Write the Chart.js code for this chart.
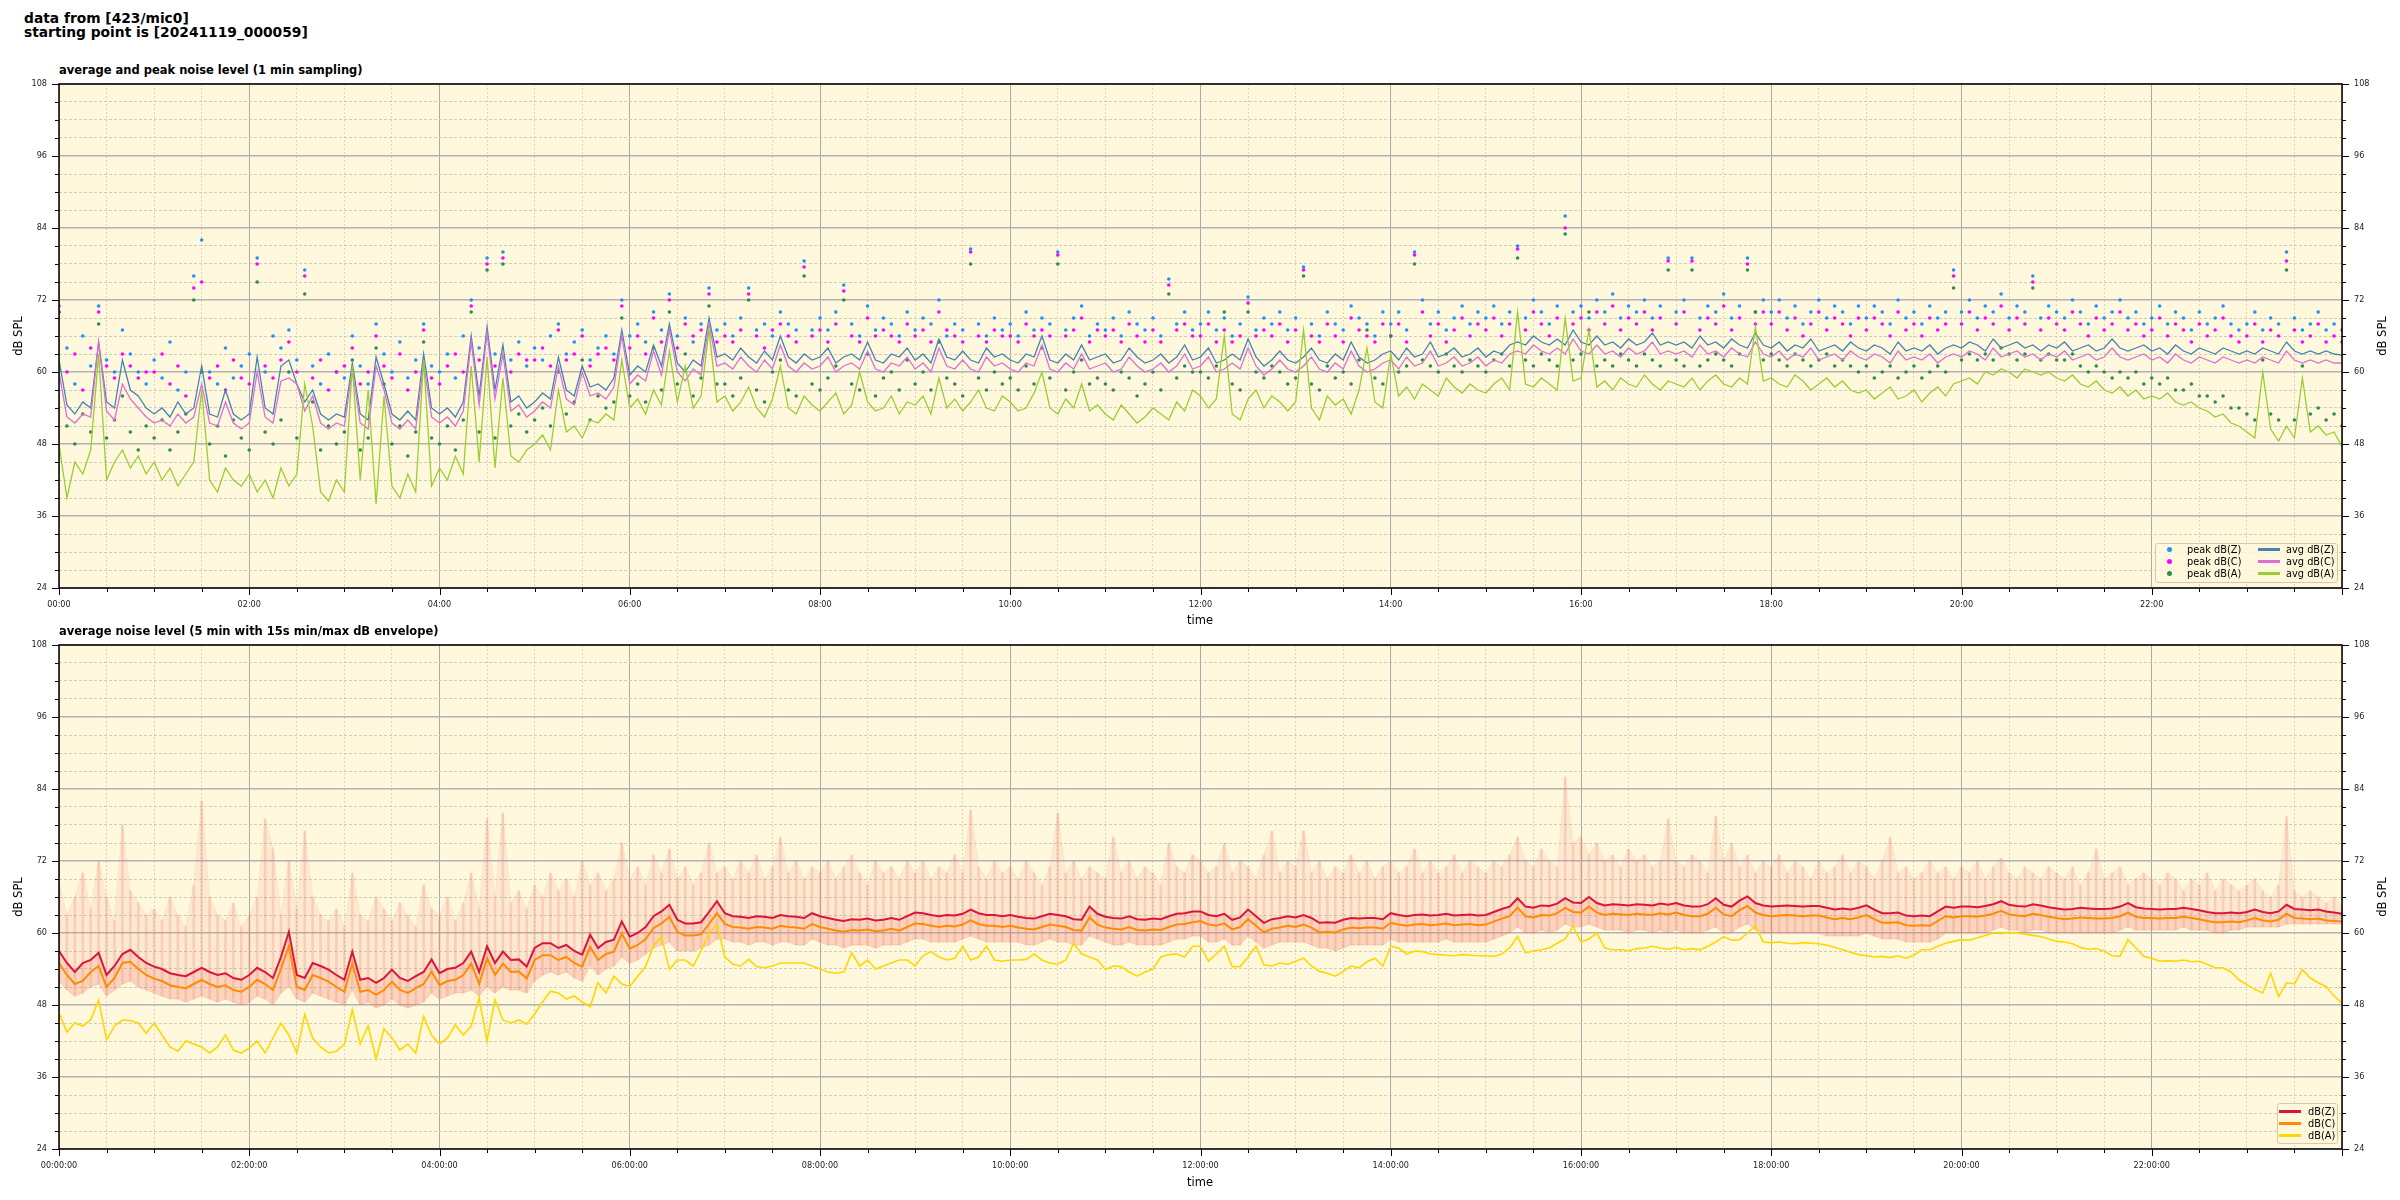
<!DOCTYPE html>
<html>
<head>
<meta charset="utf-8">
<title>noise level 423/mic0</title>
<script src="https://cdn.jsdelivr.net/npm/chart.js@4.4.1/dist/chart.umd.min.js"></script>
<style>
  body { margin: 0; background: #fff; }
  #fig { position: relative; width: 2400px; height: 1200px; font-family: "DejaVu Sans", sans-serif; color: #000; overflow: hidden; }
  .abs { position: absolute; white-space: nowrap; }
  .suptitle { left: 24px; top: 11px; font-size: 13.8px; font-weight: bold; line-height: 14px; }
  .ptitle { left: 59px; font-size: 11.5px; font-weight: bold; line-height: 12px; }
  .xlabel { width: 200px; left: 1100px; text-align: center; font-size: 11.5px; line-height: 12px; }
  .ylabel { width: 100px; text-align: center; font-size: 11.5px; line-height: 12px; transform: rotate(-90deg); }
  canvas { position: absolute; left: 0; }
  .legend { background: rgba(255, 248, 220, 0.8); border: 1px solid #dcc9a3; border-radius: 3px; box-sizing: border-box; font-size: 9.8px; line-height: 12px; z-index: 2; }
  .legend span { position: absolute; }
  .dot { width: 5px; height: 5px; border-radius: 50%; }
  .seg { width: 22px; height: 3px; }
</style>
</head>
<body>
<div id="fig">
  <div class="abs suptitle">data from [423/mic0]<br>starting point is [20241119_000059]</div>

  <div class="abs ptitle" style="top:64px">average and peak noise level (1 min sampling)</div>
  <canvas id="topChart" width="2400" height="580" style="top:60px"></canvas>
  <div class="abs xlabel" style="top:614px">time</div>
  <div class="abs ylabel" style="left:-32px;top:330px">dB SPL</div>
  <div class="abs ylabel" style="left:2332px;top:330px">dB SPL</div>

  <div class="abs ptitle" style="top:625px">average noise level (5 min with 15s min/max dB envelope)</div>
  <canvas id="bottomChart" width="2400" height="580" style="top:620px"></canvas>
  <div class="abs xlabel" style="top:1176px">time</div>
  <div class="abs ylabel" style="left:-32px;top:891px">dB SPL</div>
  <div class="abs ylabel" style="left:2332px;top:891px">dB SPL</div>

  <div class="abs legend" style="left:2155px;top:543px;width:183px;height:40px">
    <span class="dot" style="left:11px;top:3px;background:#1e90ff"></span><span style="left:31px;top:0px">peak dB(Z)</span>
    <span class="dot" style="left:11px;top:15px;background:#ff00ff"></span><span style="left:31px;top:12px">peak dB(C)</span>
    <span class="dot" style="left:11px;top:27px;background:#2e8b57"></span><span style="left:31px;top:24px">peak dB(A)</span>
    <span class="seg" style="left:102px;top:4px;background:#4682b4"></span><span style="left:130px;top:0px">avg dB(Z)</span>
    <span class="seg" style="left:102px;top:16px;background:#da70d6"></span><span style="left:130px;top:12px">avg dB(C)</span>
    <span class="seg" style="left:102px;top:28px;background:#9acd32"></span><span style="left:130px;top:24px">avg dB(A)</span>
  </div>

  <div class="abs legend" style="left:2277px;top:1103px;width:61px;height:41px">
    <span class="seg" style="left:1px;top:6px;background:#dc143c"></span><span style="left:30px;top:2px">dB(Z)</span>
    <span class="seg" style="left:1px;top:18px;background:#ff8c00"></span><span style="left:30px;top:14px">dB(C)</span>
    <span class="seg" style="left:1px;top:30px;background:#ffd700"></span><span style="left:30px;top:26px">dB(A)</span>
  </div>
</div>

<script>
// one value every 5 minutes, 00:00 .. 24:00
const STEP_MIN = 5;
const times = Array.from({ length: 289 }, (_, i) => i * STEP_MIN);

const yTickLabels = [24, 36, 48, 60, 72, 84, 96, 108];
const xTickLabelsTop = ['00:00', '02:00', '04:00', '06:00', '08:00', '10:00', '12:00', '14:00', '16:00', '18:00', '20:00', '22:00'];
const xTickLabelsBottom = ['00:00:00', '02:00:00', '04:00:00', '06:00:00', '08:00:00', '10:00:00', '12:00:00', '14:00:00', '16:00:00', '18:00:00', '20:00:00', '22:00:00'];

// ---- top panel: 1 min averages and peaks (read every 5 min)
const avgZ = [
  62, 54.5, 53, 55, 54, 65, 55, 54, 62, 57, 56, 54,
  53, 54, 52.5, 55, 53, 54, 61, 53, 52.5, 57, 53, 52,
  53, 62.5, 54, 53, 61, 62, 58, 55, 57, 53, 52, 53,
  52.5, 61.5, 53, 52, 62.5, 58, 53, 52, 53.5, 52, 63, 54,
  53, 54, 52.5, 55, 66, 56, 67.5, 57, 64.5, 55, 56, 54,
  55, 56.5, 55.5, 62.5, 57, 56, 61, 57.5, 58, 57, 59, 67,
  59.5, 61, 60, 64.5, 61, 68, 61.5, 60, 62, 61, 69, 62.5,
  63, 62, 64, 62.5, 61.5, 63.5, 62, 66, 62.5, 61.5, 63, 62,
  62.5, 64, 61.5, 62.5, 63, 62, 65, 62, 61.5, 63, 62.5, 64,
  62, 63, 61.5, 65.5, 62.5, 62, 63.5, 62, 61.5, 64, 62.5, 63,
  62, 61.5, 63, 62.5, 66, 62, 61.5, 63, 62, 64.5, 62, 62.5,
  63, 61.5, 62, 64, 62.5, 61.5, 62, 63, 61.5, 62.5, 64.5, 62,
  62.5, 64, 61.5, 62, 63, 62, 65.5, 62.5, 61, 62, 63.5, 62,
  61.5, 62.5, 64, 62, 61.5, 63, 62, 65, 62.5, 61.5, 62, 63,
  63.5, 62, 64, 62.5, 63, 65, 62.5, 63, 64, 62.5, 63, 64,
  62.5, 63.5, 63, 64.5, 65, 64.5, 66, 65, 64.5, 65.5, 64.5, 67,
  65, 64.5, 66, 64.5, 65, 64, 65.5, 64.5, 65, 66.5, 64.5, 65,
  64.5, 65, 64, 66, 64.5, 65, 64, 65.5, 64.5, 64, 66.5, 64.5,
  64, 65, 63.5, 64.5, 64, 65.5, 63.5, 64, 64.5, 63.5, 65, 64,
  63.5, 64.5, 64, 63, 65, 63.5, 64, 63.5, 64.5, 63, 64, 64.5,
  64, 65, 64.5, 63.5, 65.5, 64, 64.5, 65, 64, 64.5, 63.5, 64.5,
  64, 65, 63.5, 64, 64.5, 63.5, 64, 65.5, 64, 63.5, 64, 64.5,
  63.5, 64, 63, 64.5, 63.5, 63, 64, 63.5, 63, 64, 63.5, 63,
  63.5, 63, 64, 63.5, 63, 65, 63.5, 63, 63.5, 63, 63.5, 63,
  62.8
];
const avgC = [
  60, 52.5, 51.5, 53, 52.5, 65, 53.5, 52, 58, 55.5, 54, 52.5,
  51.5, 52, 51, 53, 51.5, 52.5, 58, 51.5, 51, 55, 51.5, 50.5,
  51.5, 60, 52.5, 51.5, 58.5, 59, 58, 53.5, 56, 51.5, 50.5, 51.5,
  51, 60.5, 51.5, 50.5, 61, 57, 51.5, 50.5, 52, 50.5, 61.5, 52.5,
  51.5, 52.5, 51, 53.5, 65, 54.5, 66.5, 55.5, 63, 53.5, 54.5, 52.5,
  53.5, 55, 54, 61, 55.5, 54.5, 60, 56, 56.5, 55.5, 57.5, 66,
  58, 59.5, 58.5, 63.5, 59.5, 67, 60, 58.5, 60.5, 59.5, 68, 61,
  61.5, 60.5, 62.5, 61, 60, 62, 60.5, 64.5, 61, 60, 61.5, 60.5,
  61, 62.5, 60, 61, 61.5, 60.5, 63.5, 60.5, 60, 61.5, 61, 62.5,
  60.5, 61.5, 60, 64, 61, 60.5, 62, 60.5, 60, 62.5, 61, 61.5,
  60.5, 60, 61.5, 61, 64.5, 60.5, 60, 61.5, 60.5, 63, 60.5, 61,
  61.5, 60, 60.5, 62.5, 61, 60, 60.5, 61.5, 60, 61, 63, 60.5,
  61, 62.5, 60, 60.5, 61.5, 60.5, 64, 61, 59.5, 60.5, 62, 60.5,
  60, 61, 62.5, 60.5, 60, 61.5, 60.5, 63.5, 61, 60, 60.5, 61.5,
  62, 60.5, 62.5, 61, 61.5, 63.5, 61, 61.5, 62.5, 61, 61.5, 62.5,
  61, 62, 61.5, 63, 63.5, 63, 64.5, 63.5, 63, 64, 63, 65.5,
  63.5, 63, 64.5, 63, 63.5, 62.5, 64, 63, 63.5, 65, 63, 63.5,
  63, 63.5, 62.5, 64.5, 63, 63.5, 62.5, 64, 63, 62.5, 65, 63,
  62.5, 63.5, 62, 63, 62.5, 64, 62, 62.5, 63, 62, 63.5, 62.5,
  62, 63, 62.5, 61.5, 63.5, 62, 62.5, 62, 63, 61.5, 62.5, 63,
  62.5, 63.5, 63, 62, 64, 62.5, 63, 63.5, 62.5, 63, 62, 63,
  62.5, 63.5, 62, 62.5, 63, 62, 62.5, 64, 62.5, 62, 62.5, 63,
  62, 62.5, 61.5, 63, 62, 61.5, 62.5, 62, 61.5, 62.5, 62, 61.5,
  62, 61.5, 62.5, 62, 61.5, 63.5, 62, 61.5, 62, 61.5, 62, 61.5,
  61.5
];
const avgA = [
  48, 39, 45, 43, 47, 63, 42, 45, 47, 44, 46, 43,
  45, 42, 44, 41, 43, 45, 57, 42, 40, 44, 42, 41,
  43, 40, 42, 39, 44, 41, 43, 58, 51, 40, 38.5, 42,
  40, 61, 42, 57, 38, 56, 41, 39, 43, 40, 62, 41,
  44, 42, 46, 43, 61, 45, 62.5, 44, 59, 46, 45, 47,
  48, 49.5, 47, 57, 50, 51, 49, 52, 51.5, 53, 52, 62,
  54, 55.5, 53, 57, 54.5, 63.5, 55, 61, 54, 56, 67, 55,
  56, 53.5, 55, 57.5, 54, 52.5, 55.5, 61, 54, 53, 56, 54.5,
  53.5, 55, 56.5, 53, 54.5, 60, 55, 53.5, 54, 56, 53, 55,
  54.5, 56, 53, 59, 54, 55.5, 53.5, 55, 57, 54, 53.5, 56,
  55, 53.5, 54, 56.5, 60, 54, 53, 55.5, 54, 58, 53.5, 54.5,
  53, 52, 54.5, 53, 51.5, 52.5, 54, 53, 52, 55, 53.5, 57,
  56, 54, 55.5, 66, 53, 52, 55.5, 57, 54, 56, 55, 53.5,
  55, 67, 54, 52, 56, 54.5, 55.5, 53, 57, 64, 55, 54,
  63, 56, 57.5, 55.5, 58, 57, 56, 59, 57.5, 56.5, 58, 57,
  56.5, 58, 59, 57, 70, 58, 57.5, 59, 58, 57, 69, 58.5,
  59, 67, 57.5, 58.5, 57, 59, 58, 57.5, 59.5, 58, 57, 58.5,
  58, 57.5, 59, 57, 58.5, 59.5, 58, 57.5, 59, 58, 67.5, 58.5,
  59, 58, 57.5, 59.5, 58.5, 57, 58, 59, 57.5, 58.5, 57, 56.5,
  57, 55.5, 56.5, 57.5, 55.5, 56, 57, 55, 56.5, 57.5, 56, 58,
  58.5, 59, 58, 60, 59.5, 60.5, 60, 59, 60.5, 60, 59.5, 60,
  59, 58.5, 59.5, 58, 57.5, 58.5, 57, 56.5, 57.5, 56, 57, 55.5,
  56, 55.5, 56.5, 55, 54.5, 55, 54, 53.5, 52.5, 53, 51.5, 51,
  50, 49, 60, 50.5, 48.5, 51, 49, 59, 50, 51, 49.5, 50,
  47.5
];
const peakZ = [
  70, 64, 58, 66, 61, 71, 62, 60, 67, 63, 60, 58,
  62, 59, 65, 57, 60, 76, 82, 60, 58, 64, 59, 61,
  63, 79, 60, 66, 64, 67, 62, 77, 61, 58, 63, 60,
  59, 66, 61, 58, 68, 63, 60, 65, 59, 62, 68, 61,
  60, 63, 59, 66, 72, 64, 79, 63, 80, 62, 65, 61,
  64, 62, 66, 68, 63, 65, 67, 62, 64, 66, 63, 72,
  66, 68, 65, 70, 67, 73, 66, 69, 65, 68, 74, 67,
  68, 66, 69, 74, 67, 68, 66, 70, 68, 67, 78.5, 67,
  69, 67, 70, 74.5, 68, 66, 71, 67, 69, 68, 66, 70,
  67, 69, 68, 72, 66, 68, 67, 80.5, 68, 66, 69, 67,
  68, 66, 70, 67, 69, 68, 80, 67, 69, 71, 66, 68,
  67, 69, 66, 70, 68, 67, 69, 66, 75.5, 68, 70, 67,
  68, 70, 67, 69, 66, 68, 72.5, 67, 69, 68, 70, 67,
  69, 77.5, 68, 66, 70, 68, 67, 71, 69, 68, 66, 70,
  68, 70, 67, 80, 72, 68, 70, 67, 69, 71, 68, 70,
  69, 71, 68, 70, 81, 69, 72, 70, 68, 71, 86, 70,
  71, 69, 72, 70, 73, 69, 71, 70, 72, 69, 71, 79,
  70, 72, 79, 69, 71, 70, 73, 69, 71, 79, 70, 72,
  70, 72, 69, 71, 68, 70, 72, 69, 71, 70, 68, 71,
  69, 71, 70, 68, 72, 69, 70, 68, 71, 69, 70, 77,
  70, 72, 69, 71, 70, 73, 69, 71, 70, 76, 69, 71,
  70, 69, 72, 70, 68, 71, 69, 70, 72, 69, 70, 68,
  69, 71, 68, 70, 69, 67, 70, 68, 69, 71, 68, 67,
  68, 70, 67, 69, 68, 80, 69, 67, 68, 70, 67, 68,
  67
];
const peakC = [
  71, 60, 63, 57, 64, 70, 61, 59, 63, 61, 59, 60,
  60, 63, 58, 61, 56, 74, 75, 59, 61, 57, 62, 59,
  58, 78, 61, 59, 62, 65, 60, 76, 59, 62, 57, 60,
  61, 64, 58, 60, 66, 61, 59, 63, 57, 60, 67, 59,
  58, 61, 63, 60, 71, 62, 78, 61, 79, 60, 63, 62,
  62, 64, 61, 67, 62, 63, 66, 61, 63, 64, 62, 71,
  64, 66, 63, 69, 65, 72, 64, 68, 66, 67, 73, 65,
  66, 65, 67, 73, 66, 64, 67, 68, 66, 65, 77.5, 66,
  67, 65, 68, 73.5, 66, 65, 69, 66, 67, 66, 65, 68,
  66, 67, 65, 70, 67, 66, 65, 80, 66, 65, 67, 66,
  66, 65, 68, 66, 67, 66, 79.5, 66, 67, 69, 65, 67,
  66, 67, 65, 68, 66, 65, 67, 65, 74.5, 67, 68, 66,
  66, 68, 65, 67, 65, 66, 71.5, 66, 67, 66, 68, 65,
  67, 77, 66, 65, 68, 66, 65, 69, 67, 66, 65, 68,
  66, 68, 65, 79.5, 70, 66, 68, 65, 67, 69, 66, 68,
  67, 69, 66, 68, 80.5, 67, 70, 68, 66, 69, 84, 68,
  69, 67, 70, 68, 71, 67, 69, 68, 70, 67, 69, 78.5,
  68, 70, 78.5, 67, 69, 68, 71, 67, 69, 78, 68, 70,
  68, 70, 67, 69, 66, 68, 70, 67, 69, 68, 66, 69,
  67, 69, 68, 66, 70, 67, 68, 66, 69, 67, 68, 76,
  68, 70, 67, 69, 68, 71, 67, 69, 68, 75, 67, 69,
  68, 67, 70, 68, 66, 69, 67, 68, 70, 67, 68, 66,
  67, 69, 66, 68, 67, 65, 68, 66, 67, 69, 66, 65,
  66, 68, 65, 67, 66, 78.5, 67, 65, 66, 68, 65, 66,
  65
];
const peakA = [
  70, 51, 48, 53, 50, 68, 49, 52, 56, 50, 47, 51,
  49, 52, 47, 50, 53, 72, 60, 48, 51, 46, 52, 49,
  47, 75, 50, 48, 52, 60, 49, 73, 55, 47, 51, 48,
  50, 62, 47, 49, 64, 58, 48, 51, 46, 50, 65, 49,
  48, 51, 47, 52, 70, 50, 77, 49, 78, 51, 53, 50,
  52, 54, 51, 60, 53, 55, 62, 52, 56, 54, 55, 69,
  56, 58, 55, 64, 57, 70, 58, 63, 56, 59, 71, 58,
  58, 56, 59, 72, 57, 55, 60, 62, 57, 56, 76, 58,
  57, 59, 61, 72, 58, 57, 63, 56, 59, 60, 57, 62,
  58, 60, 57, 65, 59, 58, 56, 78, 59, 57, 60, 58,
  59, 57, 61, 58, 64, 59, 78, 57, 60, 62, 58, 59,
  58, 57, 60, 59, 56, 58, 60, 57, 73, 59, 61, 60,
  60, 59, 61, 70, 58, 57, 70, 60, 59, 61, 60, 58,
  59, 76, 58, 57, 61, 59, 60, 58, 62, 67, 59, 58,
  66, 60, 61, 78, 62, 61, 60, 63, 61, 60, 62, 61,
  60, 62, 63, 61, 79, 62, 61, 63, 62, 61, 83, 62,
  63, 70, 61, 62, 61, 63, 62, 61, 63, 62, 61, 77,
  62, 61, 77, 61, 62, 63, 62, 61, 63, 77, 70, 62,
  63, 62, 61, 63, 62, 61, 62, 63, 61, 62, 61, 60,
  61, 59, 60, 61, 59, 60, 61, 59, 60, 61, 60, 74,
  62, 63, 62, 63, 62, 64, 63, 62, 63, 74, 62, 63,
  62, 62, 63, 61, 60, 61, 60, 59, 60, 59, 60, 58,
  59, 58, 59, 57, 57, 58, 56, 56, 55, 56, 54, 54,
  53, 52, 62, 53, 52, 77, 52, 61, 53, 54, 52, 53,
  51
];

// ---- bottom panel: 5 min averages and 15s min/max envelope
const levelZ = [
  57, 55, 53.5, 55, 55.5, 56.7, 53, 54.5, 56.5, 57.2, 56, 55,
  54.4, 54, 53.3, 53, 52.8, 53.5, 54.2, 53.5, 53, 53.3, 52.5, 52.2,
  53, 54.2, 53.5, 52.5, 56, 60.2, 53, 52.5, 55, 54.5, 53.9, 53,
  52.2, 56.9, 52.2, 52.5, 51.7, 52.5, 53.9, 52.5, 52, 52.8, 53.5, 55.6,
  53.3, 54, 54.2, 55, 56.9, 53.5, 57.8, 55, 56.9, 55.5, 55.6, 54.4,
  57.5, 58.3, 58.3, 57.5, 58, 57, 56.4, 59.7, 57.5, 58.5, 58.9, 61.9,
  59.4, 60, 61, 62.8, 63.6, 64.7, 62.2, 61.6, 61.6, 61.8, 63.5, 65.3,
  63.3, 62.8, 62.7, 62.5, 62.8, 62.7, 62.5, 63, 62.8, 62.7, 62.5, 63.3,
  62.8, 62.5, 62.2, 62, 62.3, 62.2, 62.4, 62.1, 62.2, 62.5, 62.2, 62.8,
  63.4, 63.3, 63, 62.8, 63, 62.9, 63.2, 63.9, 63.3, 63, 63, 62.8,
  63, 62.7, 62.5, 62.4, 62.8, 63.2, 63, 62.8, 62.3, 62.2, 64.4, 63.2,
  62.7, 62.5, 62.4, 62.8, 62.3, 62.2, 62.4, 62.3, 62.8, 63.2, 63.3, 63.6,
  63.6, 63, 62.8, 63.2, 62.2, 62.6, 63.9, 62.8, 61.7, 62.3, 62.5, 62.8,
  62.6, 63, 62.5, 61.7, 61.8, 61.7, 62.2, 62.5, 62.4, 62.5, 62.5, 62.3,
  63.3, 63, 62.8, 63, 63.1, 62.9, 63, 63.2, 62.9, 63, 63.1, 62.9,
  63, 63.5, 64, 64.4, 65.8, 64.4, 64.2, 64.6, 64.5, 64.9, 65.8, 65.1,
  65, 66, 65, 64.6, 64.8, 64.7, 64.6, 64.8, 64.7, 64.6, 64.9, 64.7,
  65, 64.6, 64.4, 64.4, 64.8, 65.8, 64.7, 64.4, 65.4, 66.1, 65, 64.6,
  64.4, 64.5, 64.6, 64.5, 64.4, 64.5, 64.5, 64.2, 63.9, 64.1, 63.9, 64.2,
  64.6, 63.9, 63.3, 63.3, 63.4, 62.9, 62.8, 62.9, 62.8, 63.6, 64.4, 64.2,
  64.4, 64.4, 64.3, 64.5, 64.8, 65.3, 64.7, 64.5, 64.4, 64.8, 64.6, 64.3,
  64.1, 63.9, 64, 64.2, 64.1, 64, 64, 64.1, 64.4, 65, 64.3, 64.1,
  64, 63.9, 64, 64, 64.2, 64, 63.8, 63.5, 63.3, 63.3, 63.4, 63.3,
  63.5, 63.9, 63.5, 63.3, 63.6, 64.7, 64, 63.9, 63.8, 63.9, 63.6, 63.4,
  63.2
];
const levelC = [
  55, 53, 51.5, 52, 53.5, 54.5, 51, 52.5, 55, 55.2, 54, 53,
  52.4, 52, 51.3, 51, 50.8, 51.5, 52.2, 51.5, 51, 51.3, 50.5, 50.2,
  51, 52.2, 51.5, 50.5, 54, 57.8, 51, 50.5, 53, 52.5, 51.9, 51,
  50.2, 54.9, 50.2, 50.5, 49.7, 50.5, 51.9, 50.5, 50, 50.8, 51.5, 53.6,
  51.3, 52, 52.2, 53, 54.9, 51.5, 55.8, 53, 54.9, 53.5, 53.6, 52.4,
  55.5, 56.3, 56.3, 55.5, 56, 55, 54.4, 57.7, 55.5, 56.5, 56.9, 59.9,
  57.4, 58, 59, 60.8, 61.6, 62.7, 60.2, 59.6, 59.6, 59.8, 61.5, 63.3,
  61.5, 61, 60.9, 60.7, 61, 60.9, 60.7, 61.2, 61, 60.9, 60.7, 61.5,
  61, 60.7, 60.4, 60.2, 60.5, 60.4, 60.6, 60.3, 60.4, 60.7, 60.4, 61,
  61.6, 61.5, 61.2, 61, 61.2, 61.1, 61.4, 62.1, 61.5, 61.2, 61.2, 61,
  61.2, 60.9, 60.7, 60.6, 61, 61.4, 61.2, 61, 60.5, 60.4, 62.6, 61.4,
  60.9, 60.7, 60.6, 61, 60.5, 60.4, 60.6, 60.5, 61, 61.4, 61.5, 61.8,
  62, 61.4, 61.2, 61.6, 60.6, 61, 62.3, 61.2, 60.1, 60.7, 60.9, 61.2,
  61, 61.4, 60.9, 60.1, 60.2, 60.1, 60.6, 60.9, 60.8, 60.9, 60.9, 60.7,
  61.7, 61.4, 61.2, 61.4, 61.5, 61.3, 61.4, 61.6, 61.3, 61.4, 61.5, 61.3,
  61.4, 61.9, 62.4, 62.8, 64.2, 62.8, 62.6, 63, 62.9, 63.3, 64.2, 63.5,
  63.4, 64.4, 63.4, 63, 63.2, 63.1, 63, 63.2, 63.1, 63, 63.3, 63.1,
  63.4, 63, 62.8, 62.8, 63.2, 64.2, 63.1, 62.8, 63.8, 64.5, 63.4, 63,
  62.8, 62.9, 63, 62.9, 62.8, 62.9, 62.9, 62.6, 62.3, 62.5, 62.3, 62.6,
  63, 62.3, 61.7, 61.7, 61.8, 61.3, 61.2, 61.3, 61.2, 62, 62.8, 62.6,
  62.8, 62.8, 62.7, 62.9, 63.2, 63.7, 63.1, 62.9, 62.8, 63.2, 63, 62.7,
  62.5, 62.3, 62.4, 62.6, 62.5, 62.4, 62.4, 62.5, 62.8, 63.4, 62.7, 62.5,
  62.5, 62.4, 62.5, 62.5, 62.7, 62.5, 62.3, 62, 61.8, 61.8, 61.9, 61.8,
  62.1, 62.5, 62.1, 61.9, 62.2, 63.2, 62.5, 62.4, 62.3, 62.4, 62.1, 62,
  61.9
];
const levelA = [
  46.7, 43.5, 45, 44.5, 45.5, 48.8, 42.2, 44.5, 45.5, 45.4, 45, 43.3,
  45, 43, 41, 40.3, 42, 41.5, 41, 40, 41, 43, 40.5, 40,
  40.8, 42, 40, 42.5, 45, 43, 40, 46.4, 42.5, 41, 40, 40.3,
  41.5, 47.2, 41.5, 44.5, 39, 44, 42.5, 40.5, 41.5, 40, 46.1, 43,
  41.5, 42.5, 44.7, 43, 44.5, 49.2, 42, 48.9, 45.5, 45, 45.5, 44.8,
  46.5, 48.5, 50.3, 50, 49, 49.5, 48.5, 47.7, 51.7, 50, 52.8, 51.5,
  51.1, 52.8, 54.4, 57.8, 59.4, 53.9, 55.5, 55.5, 54.5, 57, 60, 61.4,
  56, 54.8, 54.5, 55.6, 54.4, 54.2, 54.5, 55, 55, 55, 55, 54.5,
  54, 53.5, 53.3, 53.5, 56.7, 54.5, 55.5, 54, 54.5, 55, 55.5, 55.5,
  54.5, 56.2, 56.9, 56, 55.5, 55.8, 57.8, 55.5, 56, 57.8, 55.5, 55.3,
  55.5, 55.5, 55.6, 56.5, 55.5, 55, 54.8, 55.5, 58.3, 56.5, 56, 55.5,
  53.9, 54.5, 54.4, 53.5, 52.8, 53.5, 54, 56, 56.4, 56.5, 56, 57.8,
  57.8, 55.3, 56.5, 57.8, 54.4, 54.4, 56, 57.8, 54.7, 54.5, 55, 54.8,
  55.3, 55.8, 54.5, 53.6, 53.3, 52.8, 53.6, 54.5, 54.2, 55.2, 55.8, 54.5,
  57.8, 57.5, 56.5, 57, 56.9, 56.5, 56.4, 56.3, 56.2, 56.4, 56.3, 56.2,
  56.2, 56.1, 56.5, 57.5, 59.4, 56.7, 57, 57.2, 57.5, 58.3, 59, 61.1,
  58.5, 59, 60, 57.5, 57.2, 57.2, 57, 57.4, 57.5, 57.8, 57.5, 57.3,
  57.6, 57.2, 57.4, 57.2, 57.8, 58.5, 59.4, 58.8, 58.9, 60, 61.2, 58.5,
  58.4, 58.5, 58.3, 58.2, 58.4, 58.3, 58.2, 58, 57.6, 57.2, 56.8, 56.4,
  56.2, 56, 56.1, 55.9, 56.2, 55.8, 56.3, 57.2, 57.2, 57.8, 58.3, 58.6,
  58.9, 58.8, 59.2, 59.6, 60, 59.9, 60.1, 60, 59.8, 59.6, 59.4, 59,
  58.6, 58.5, 58.2, 57.6, 57.3, 57.4, 57, 56.2, 56.1, 58.9, 57.5, 56.1,
  55.8, 55.3, 55.4, 55.3, 55.5, 55.2, 55.3, 54.8, 54.2, 54.2, 53.5, 52.2,
  51.4, 50.6, 50, 53.3, 49.4, 51.7, 51.5, 53.9, 52.5, 51.7, 51.1, 49.5,
  48.3
];
const envMax = [
  68, 63, 66, 70, 64, 72, 66, 62, 78, 67, 65, 63,
  64, 62, 66, 63, 61, 68, 82, 66, 63, 62, 65, 61,
  63, 66, 79, 74, 63, 72, 64, 77, 66, 63, 62, 64,
  61, 70, 63, 62, 66, 64, 62, 65, 63, 61, 68, 64,
  63, 66, 62, 65, 70, 64, 79, 66, 80, 65, 67, 64,
  68, 66, 70, 67, 69, 66, 72, 68, 70, 67, 69, 75,
  69, 71, 68, 73, 70, 74, 69, 71, 68, 70, 75, 70,
  71, 69, 72, 70, 73, 69, 71, 76, 70, 72, 69, 71,
  70, 72, 69, 71, 73, 70, 68, 72, 70, 71, 69, 72,
  70, 72, 69, 71, 70, 73, 70, 80.5, 71, 69, 72, 70,
  71, 69, 72, 70, 68, 71, 80, 70, 72, 69, 71, 70,
  69, 76, 70, 72, 69, 71, 70, 68, 75, 71, 70, 73,
  72, 70, 71, 75, 70, 72, 71, 69, 73, 77, 70, 72,
  71, 77, 70, 72, 69, 71, 70, 73, 70, 72, 69, 71,
  72, 70, 71, 74, 70, 72, 70, 71, 73, 70, 72, 71,
  70, 72, 71, 73, 76, 72, 71, 74, 72, 71, 86, 75,
  76, 73, 75, 72, 73, 71, 74, 72, 73, 71, 72, 79,
  72, 71, 73, 72, 70, 79.5, 72, 75, 71, 73, 70, 72,
  71, 73, 70, 72, 71, 69, 72, 70, 71, 73, 70, 72,
  71, 69, 72, 76, 70, 71, 69, 70, 72, 70, 71, 69,
  71, 70, 72, 69, 71, 72.5, 70, 69, 71, 70, 69, 71,
  70, 69, 71, 68, 70, 74, 69, 70, 71, 68, 69, 70,
  69, 68, 70, 69, 67, 69, 68, 70, 67, 69, 68, 67,
  68, 69, 67, 66, 68, 79.5, 67, 66, 67, 66, 65, 66,
  64.5
];
const envMin = [
  52, 50.5, 49.5, 50, 51, 51.5, 49.5, 50.5, 51.5, 52, 51, 50.5,
  50, 49.5, 49, 49, 48.5, 49, 49.5, 49, 48.5, 49, 48.5, 48,
  48.5, 49.5, 49, 48, 50, 51, 49, 48.5, 50, 49.5, 49, 48.5,
  48, 50.5, 48, 48.5, 47.5, 48, 49, 48, 47.5, 48, 48.5, 50,
  49, 49.5, 50, 50, 50.5, 49.5, 51, 50, 51, 50.5, 50.5, 50,
  52, 53, 53.5, 53, 53.5, 52.5, 52, 54.5, 53, 54, 54.5, 56,
  55, 55.5, 56.5, 57.5, 58, 58.5, 57, 57, 57, 57.5, 58, 59,
  59, 58.5, 58.5, 58, 58.5, 58.5, 58, 58.5, 58.5, 58, 58, 59,
  58.5, 58, 58, 57.5, 58, 58, 58, 57.5, 58, 58, 58, 58.5,
  59, 59, 58.5, 58.5, 58.5, 58.5, 59, 59.5, 59, 58.5, 58.5, 58.5,
  58.5, 58.5, 58, 58, 58.5, 59, 58.5, 58.5, 58, 58, 59.5, 59,
  58.5, 58, 58, 58.5, 58, 58, 58, 58, 58.5, 59, 59, 59.5,
  59.5, 58.5, 58.5, 59, 58, 58, 59.5, 58.5, 57.5, 58, 58.5, 58.5,
  58.5, 58.5, 58, 57.5, 57.5, 57, 57.5, 58, 58, 58, 58, 58,
  59, 58.5, 58.5, 58.5, 58.5, 58.5, 58.5, 59, 58.5, 58.5, 58.5, 58.5,
  58.5, 59, 59.5, 60, 61, 60, 60, 60.5, 60, 60.5, 61.5, 61,
  61, 61.5, 61, 60.5, 60.5, 60.5, 60, 60.5, 60.5, 60, 60.5, 60,
  60.5, 60, 60, 60, 60.5, 61, 60, 60, 61, 61.5, 60.5, 60,
  60, 60, 60, 60, 60, 60, 60, 59.5, 59.5, 59.5, 59.5, 59.5,
  60, 59.5, 59, 59, 59, 58.5, 58.5, 58.5, 58.5, 59, 60, 60,
  60, 60, 60, 60, 60.5, 61, 60.5, 60.5, 60, 60.5, 60.5, 60,
  60, 60, 60, 60, 60, 60, 60, 60, 60.5, 61, 60.5, 60.5,
  60.5, 60.5, 60.5, 60.5, 61, 60.5, 60.5, 60.5, 60, 60, 60.5, 60.5,
  61, 61, 61, 61, 61, 61.5, 61.5, 61.5, 61.5, 61.5, 61.5, 61.5,
  61.5
];

const xy = (vals) => vals.map((v, i) => ({ x: times[i], y: v }));

const isMajorY = (v) => v % 12 === 0;
const isMajorX = (v) => v % 120 === 0;

// cornsilk background, black frame and short/long tick marks
const plotFrame = {
  id: 'plotFrame',
  beforeDraw(chart) {
    const { ctx, chartArea: a } = chart;
    ctx.save();
    ctx.fillStyle = '#fff8dc';
    ctx.fillRect(a.left, a.top, a.right - a.left, a.bottom - a.top);
    ctx.restore();
  },
  afterDraw(chart) {
    const { ctx, chartArea: a, scales } = chart;
    ctx.save();
    ctx.strokeStyle = '#000';
    ctx.lineWidth = 1;
    ctx.beginPath();
    scales.x.ticks.forEach(t => {
      const px = Math.round(scales.x.getPixelForValue(t.value)) + 0.5;
      const len = isMajorX(t.value) ? 7 : 4;
      ctx.moveTo(px, a.bottom);
      ctx.lineTo(px, a.bottom + len);
    });
    scales.y.ticks.forEach(t => {
      const py = Math.round(scales.y.getPixelForValue(t.value)) + 0.5;
      const len = isMajorY(t.value) ? 7 : 4;
      ctx.moveTo(a.left - len, py);
      ctx.lineTo(a.left, py);
      ctx.moveTo(a.right, py);
      ctx.lineTo(a.right + len, py);
    });
    ctx.stroke();
    ctx.lineWidth = 1.5;
    ctx.strokeRect(a.left, a.top, a.right - a.left, a.bottom - a.top);
    ctx.restore();
  }
};

const tickFont = { family: '"DejaVu Sans Condensed", "DejaVu Sans", sans-serif', size: 9 };

function makeOptions(padTop, xHeight, xLabels) {
  const yAxis = (position) => ({
    type: 'linear',
    position: position,
    min: 24,
    max: 108,
    afterFit: (s) => { s.width = position === 'left' ? 59 : 58; },
    ticks: {
      stepSize: 3,
      autoSkip: false,
      padding: 5,
      color: '#222',
      font: tickFont,
      callback: (v) => yTickLabels.includes(v) ? String(v) : ''
    },
    grid: {
      drawOnChartArea: position === 'left',
      tickLength: 7,
      tickColor: 'rgba(0,0,0,0)',
      color: (c) => c.tick && isMajorY(c.tick.value) ? '#b2b2b2' : '#c2c0b8',
      lineWidth: (c) => c.tick && isMajorY(c.tick.value) ? 1.6 : 0.8
    },
    border: {
      display: false,
      dash: (c) => c.tick && isMajorY(c.tick.value) ? [] : [3, 2]
    }
  });
  return {
    responsive: false,
    animation: false,
    events: [],
    layout: { padding: { top: padTop, left: 0, right: 0, bottom: 0 } },
    plugins: { legend: { display: false }, tooltip: { enabled: false } },
    scales: {
      x: {
        type: 'linear',
        min: 0,
        max: 1440,
        offset: false,
        afterFit: (s) => { s.height = xHeight; },
        ticks: {
          stepSize: 30,
          autoSkip: false,
          maxTicksLimit: 100,
          maxRotation: 0,
          minRotation: 0,
          padding: 4,
          color: '#222',
          font: tickFont,
          callback: (v) => isMajorX(v) && v < 1440 ? xLabels[v / 120] : ''
        },
        grid: {
          offset: false,
          tickLength: 7,
          tickColor: 'rgba(0,0,0,0)',
          color: (c) => c.tick && isMajorX(c.tick.value) ? '#aaaaaa' : '#d2cbb8',
          lineWidth: (c) => c.tick && isMajorX(c.tick.value) ? 1 : 0.8
        },
        border: {
          display: false,
          dash: (c) => c.tick && isMajorX(c.tick.value) ? [] : [2, 2]
        }
      },
      y: yAxis('left'),
      y2: yAxis('right')
    }
  };
}

const lineSet = (label, vals, color, width, order) => ({
  label, data: xy(vals), borderColor: color, backgroundColor: color,
  borderWidth: width, pointRadius: 0, tension: 0, fill: false, order
});
const peakSet = (label, vals, color, order) => ({
  label, data: xy(vals), showLine: false, pointRadius: 1.8, pointStyle: 'circle',
  pointBorderWidth: 0, pointBackgroundColor: color, borderColor: color, backgroundColor: color, order
});

new Chart(document.getElementById('topChart'), {
  type: 'line',
  data: {
    datasets: [
      peakSet('peak dB(Z)', peakZ, '#1e90ff', 6),
      peakSet('peak dB(C)', peakC, '#ff00ff', 5),
      peakSet('peak dB(A)', peakA, '#2e8b57', 4),
      lineSet('avg dB(Z)', avgZ, '#4682b4', 1.3, 3),
      lineSet('avg dB(C)', avgC, '#da70d6', 1.3, 2),
      lineSet('avg dB(A)', avgA, '#9acd32', 1.3, 1)
    ]
  },
  options: makeOptions(24, 52, xTickLabelsTop),
  plugins: [plotFrame]
});

// the 15s envelope: light haze from min to max, thin spikes, denser band up to dB(Z)
new Chart(document.getElementById('bottomChart'), {
  type: 'line',
  data: {
    datasets: [
      {
        type: 'bar', label: 'envelope',
        data: times.map((t, i) => ({ x: t, y: [envMin[i], envMax[i]] })),
        backgroundColor: 'rgba(240,128,114,0.26)', borderWidth: 0,
        barThickness: 2, grouped: false, order: 8
      },
      {
        label: 'min', data: xy(envMin), borderColor: 'rgba(240,128,114,0.3)',
        backgroundColor: 'rgba(240,128,114,0.2)', borderWidth: 0.8,
        pointRadius: 0, tension: 0, fill: 3, order: 6
      },
      {
        label: 'max', data: xy(envMax), borderColor: 'rgba(240,128,114,0.2)',
        backgroundColor: 'rgba(240,128,114,0.12)', borderWidth: 0.6,
        pointRadius: 0, tension: 0, fill: 1, order: 7
      },
      lineSet('dB(Z)', levelZ, '#dc143c', 2, 2),
      lineSet('dB(C)', levelC, '#ff8c00', 2, 3),
      lineSet('dB(A)', levelA, '#ffd700', 1.6, 1)
    ]
  },
  options: makeOptions(25, 51, xTickLabelsBottom),
  plugins: [plotFrame]
});
</script>
</body>
</html>
